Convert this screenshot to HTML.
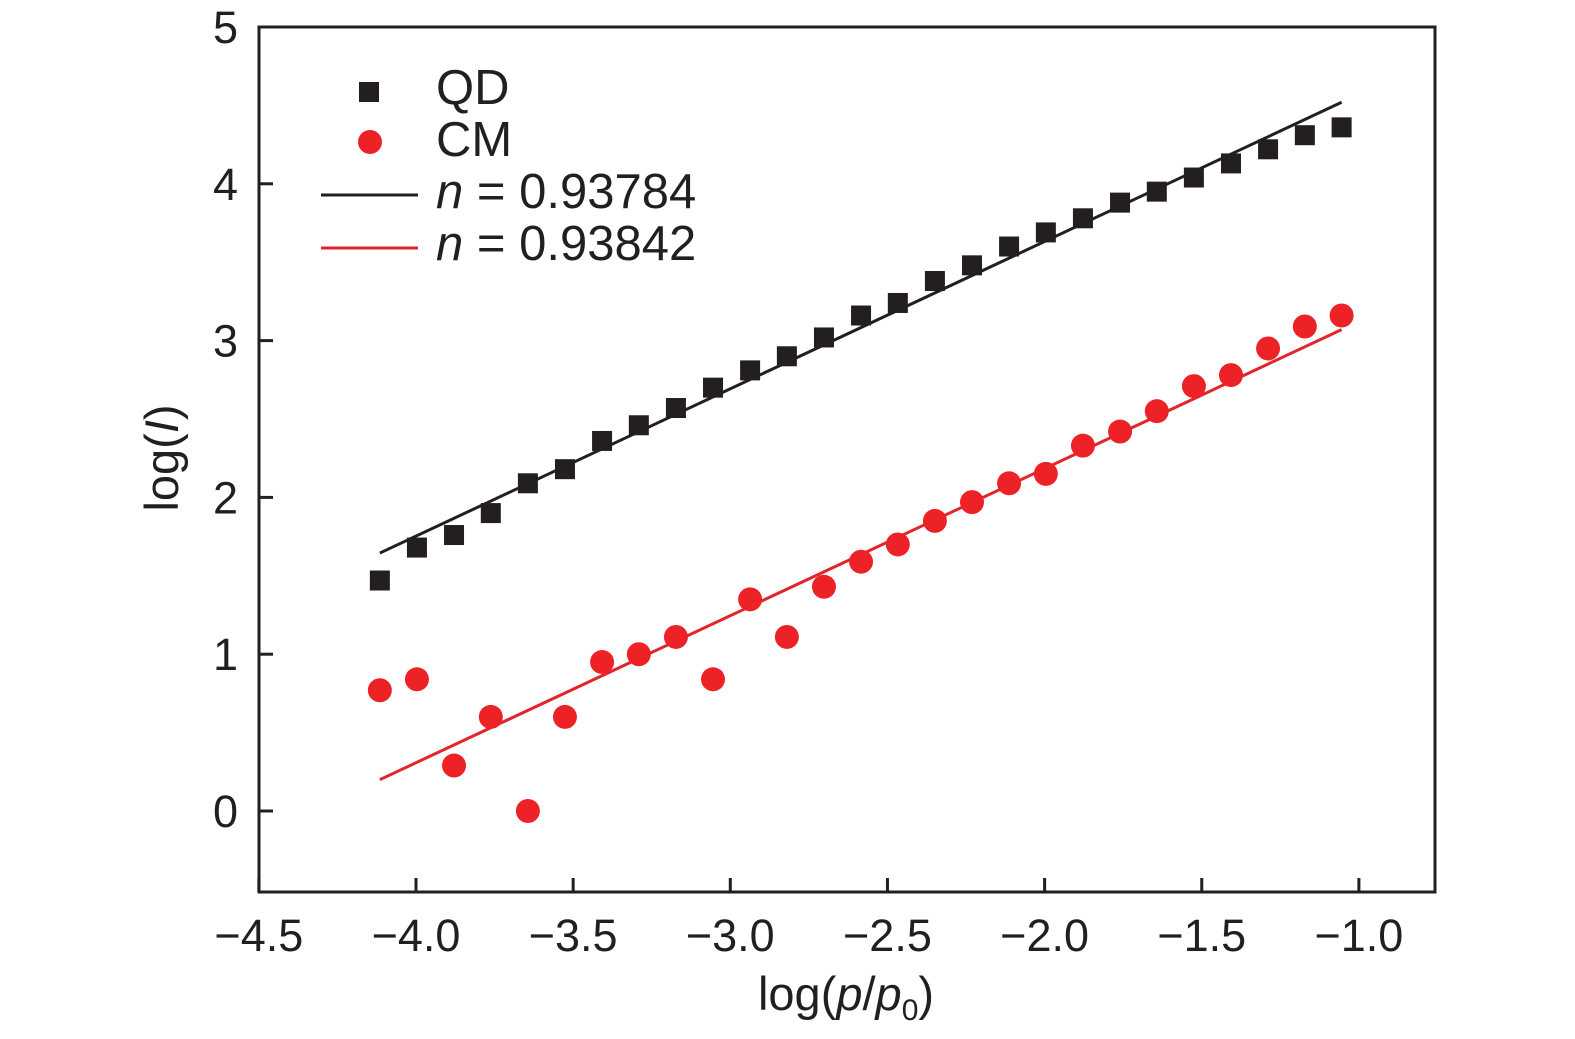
<!DOCTYPE html>
<html><head><meta charset="utf-8"><style>
body{margin:0;background:#fff}
svg{display:block;font-family:"Liberation Sans",sans-serif}
</style></head><body>
<svg id="chart" width="1575" height="1039"></svg>
<script>
const xTicks=[-4.5,-4.0,-3.5,-3.0,-2.5,-2.0,-1.5,-1.0];
const xTickLabels=["\u22124.5","\u22124.0","\u22123.5","\u22123.0","\u22122.5","\u22122.0","\u22121.5","\u22121.0"];
const yTicks=[0,1,2,3,4,5];
const yTickLabels=["0","1","2","3","4","5"];
const xVals=[-4.115,-3.997,-3.879,-3.762,-3.644,-3.526,-3.408,-3.291,-3.173,-3.055,-2.937,-2.82,-2.702,-2.584,-2.467,-2.349,-2.231,-2.113,-1.996,-1.878,-1.76,-1.643,-1.525,-1.407,-1.289,-1.172,-1.055];
const qdVals=[1.47,1.68,1.76,1.90,2.09,2.18,2.36,2.46,2.57,2.70,2.81,2.90,3.02,3.16,3.24,3.38,3.48,3.60,3.69,3.78,3.88,3.95,4.04,4.13,4.22,4.31,4.36];
const cmVals=[0.77,0.84,0.29,0.60,0.0,0.60,0.95,1.0,1.11,0.84,1.35,1.11,1.43,1.59,1.70,1.85,1.97,2.09,2.15,2.33,2.42,2.55,2.71,2.78,2.95,3.09,3.16];
const fitX=[-4.115,-1.055];
const qdFit=[1.645,4.52];
const cmFit=[0.20,3.07];

const NS="http://www.w3.org/2000/svg";
const svg=document.getElementById('chart');
const X0=259,X1=1435,Y0=892,Y1=27;
const xs=v=>416+(v+4.0)*314.3;
const ys=v=>811-v*156.8;
function mk(t,a,p){const e=document.createElementNS(NS,t);for(const k in a)e.setAttribute(k,a[k]);(p||svg).appendChild(e);return e;}

const frame=mk('rect',{x:X0,y:Y1,width:X1-X0,height:Y0-Y1,fill:'none',stroke:'#231f20','stroke-width':3});



xTicks.forEach((v,i)=>{
  const t=mk('line',{x1:xs(v),x2:xs(v),y1:Y0,y2:Y0-14,stroke:'#231f20','stroke-width':3});
  
  
  const l=mk('text',{x:xs(v),y:951,'text-anchor':'middle','font-size':45,fill:'#231f20'});
  l.textContent=xTickLabels[i];
  
  
});
yTicks.forEach((v,i)=>{
  const t=mk('line',{x1:X0,x2:X0+14,y1:ys(v),y2:ys(v),stroke:'#231f20','stroke-width':3});
  
  
  const l=mk('text',{x:238,y:ys(v)+16,'text-anchor':'end','font-size':45,fill:'#231f20'});
  l.textContent=yTickLabels[i];
  
  
});

const xt=mk('text',{x:846,y:1010,'text-anchor':'middle','font-size':47,fill:'#231f20'});
xt.innerHTML='log(<tspan font-style="italic">p</tspan>/<tspan font-style="italic">p</tspan><tspan font-size="30" dy="10">0</tspan><tspan dy="-10">)</tspan>';


const yt=mk('text',{x:0,y:0,'text-anchor':'middle','font-size':47,fill:'#231f20',transform:'translate(178,458) rotate(-90)'});
yt.innerHTML='log(<tspan font-style="italic">I</tspan>)';



const f1=mk('line',{x1:xs(fitX[0]),y1:ys(qdFit[0]),x2:xs(fitX[1]),y2:ys(qdFit[1]),stroke:'#231f20','stroke-width':3});


const f2=mk('line',{x1:xs(fitX[0]),y1:ys(cmFit[0]),x2:xs(fitX[1]),y2:ys(cmFit[1]),stroke:'#e0262b','stroke-width':3});



xVals.forEach((x,i)=>{
  const s=mk('rect',{x:xs(x)-10,y:ys(qdVals[i])-10,width:20,height:20,fill:'#231f20'});
  
  
  const c=mk('circle',{cx:xs(x),cy:ys(cmVals[i]),r:12,fill:'#ed2227'});
  
  
});

const lg=mk('g',{});


const ls=mk('rect',{x:359,y:82,width:20,height:20,fill:'#231f20'},lg);


const lc=mk('circle',{cx:370,cy:142,r:12,fill:'#ed2227'},lg);


const ll1=mk('line',{x1:321,x2:418,y1:195,y2:195,stroke:'#231f20','stroke-width':3},lg);


const ll2=mk('line',{x1:321,x2:418,y1:248,y2:248,stroke:'#e0262b','stroke-width':3},lg);


const labels=[['QD',104],['CM',156],['<tspan font-style="italic">n</tspan> = 0.93784',208],['<tspan font-style="italic">n</tspan> = 0.93842',260]];
labels.forEach(([t,y])=>{
  const e=mk('text',{x:436,y:y,'font-size':49,fill:'#231f20'},lg);
  e.innerHTML=t;
  
  
});
</script>
</body></html>
